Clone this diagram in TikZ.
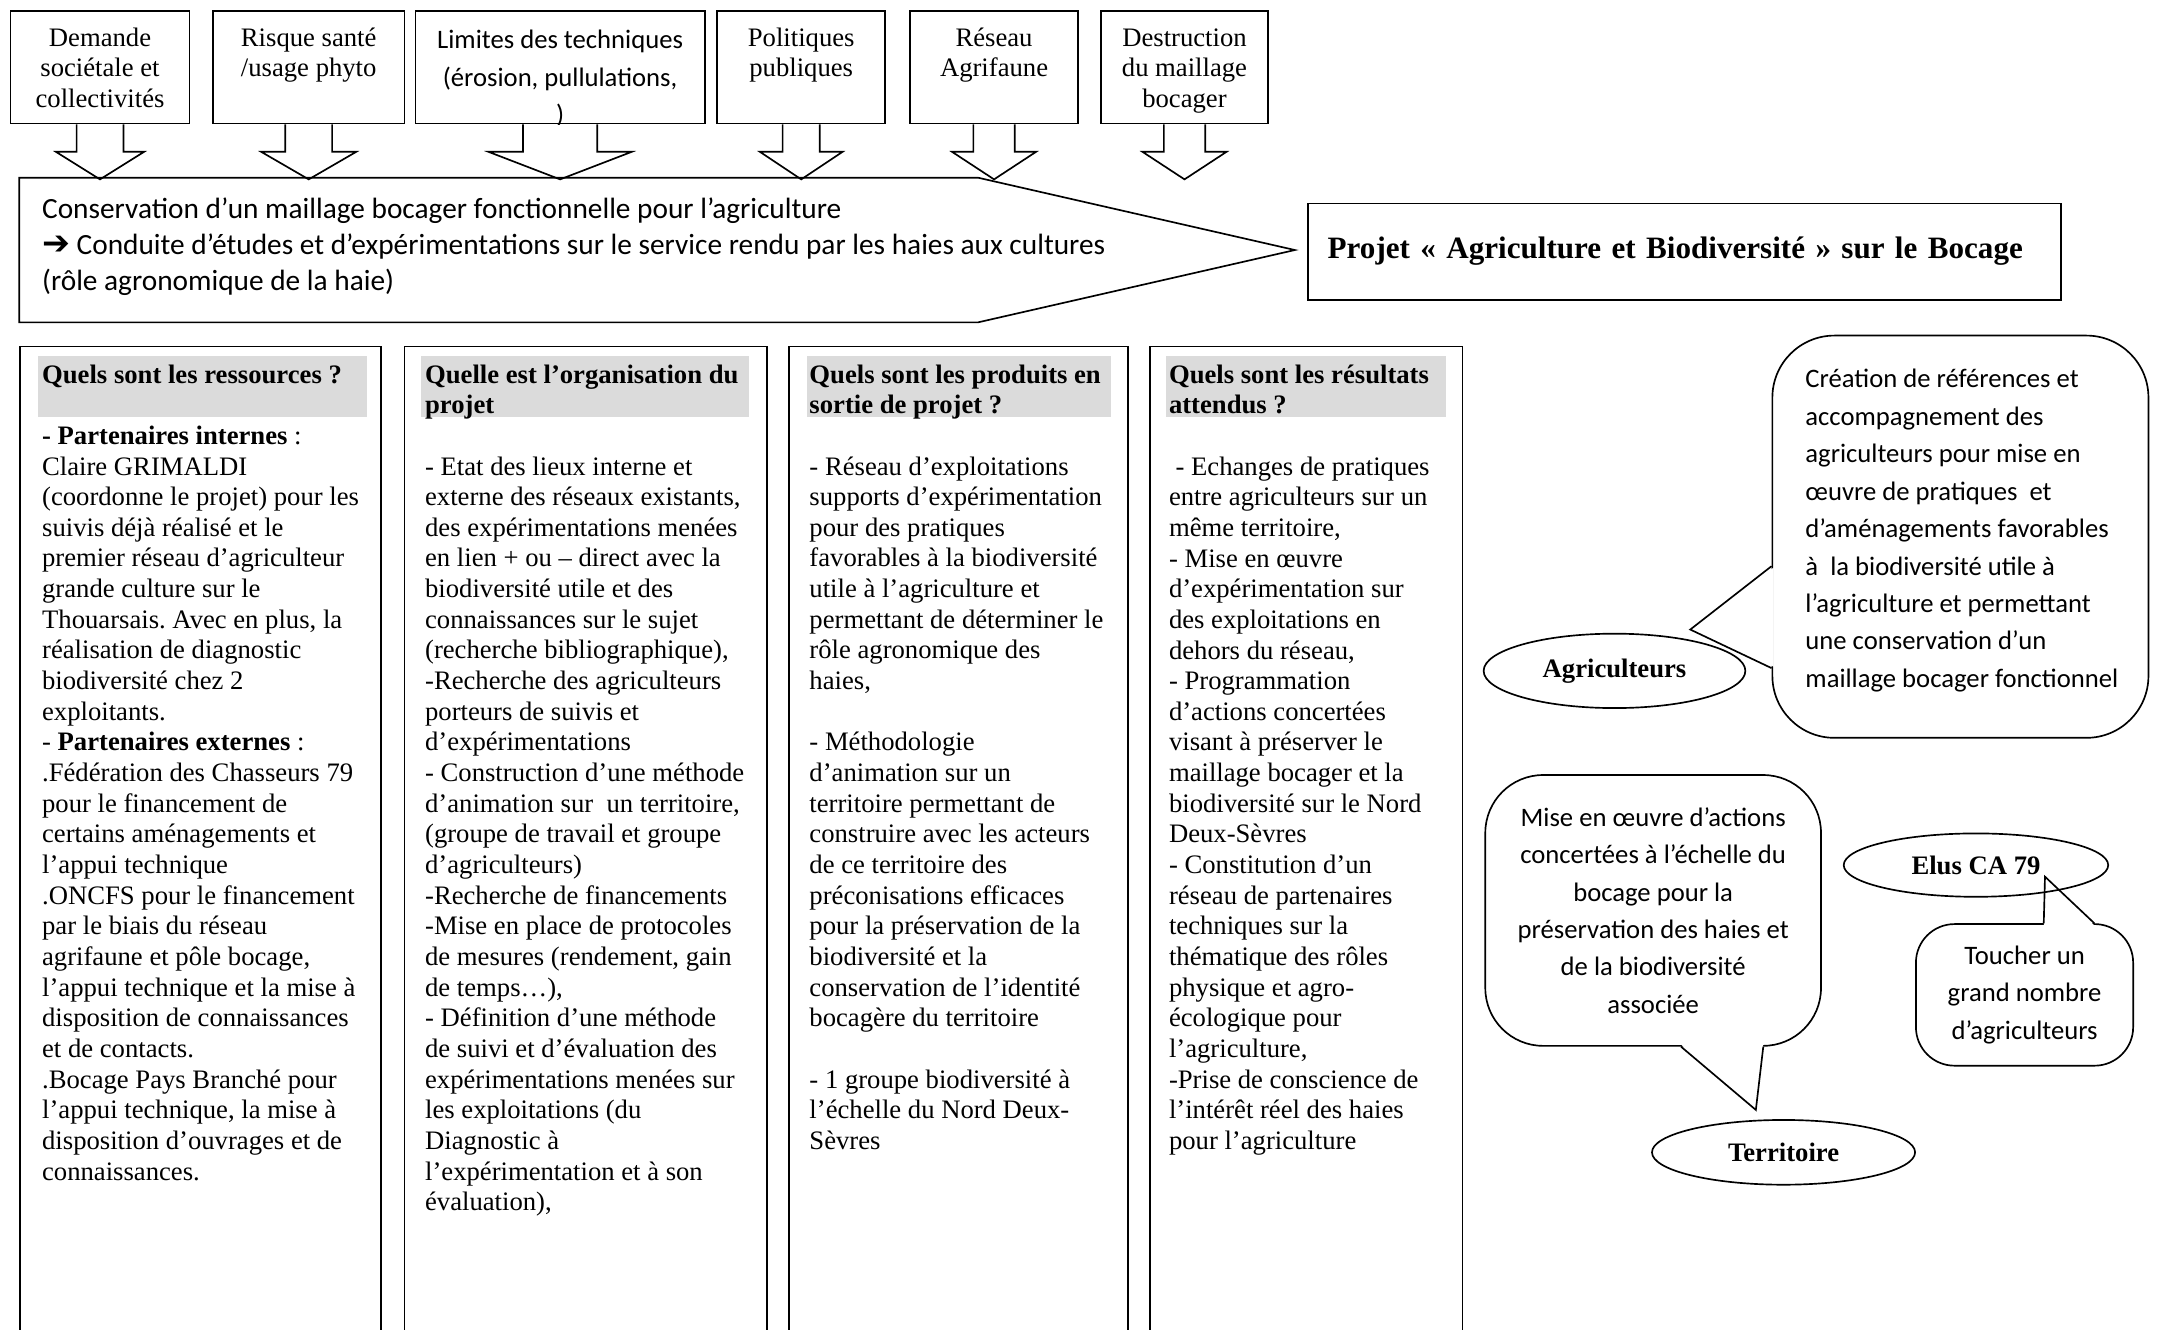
\documentclass[tikz,border=0pt]{standalone}
\usepackage{fontspec}
\setmainfont{Liberation Serif}
\newfontfamily\calibri{Carlito}
\newfontfamily\arrowfont{DejaVu Sans}
\usetikzlibrary{shapes.geometric,calc}
\newcommand{\pxu}{0.62pt}
\newcommand{\topstrut}{\rule{0pt}{11.2pt}}
\newcommand{\lowstrut}{\rule[-2.6pt]{0pt}{2.6pt}}
\frenchspacing

\tikzset{
  topbox/.style={draw, anchor=north west, minimum height=81.5*\pxu, inner sep=0pt, align=center},
  colframe/.style={draw, anchor=north west, minimum height=800*\pxu, inner sep=0pt},
  band/.style={fill=black!14, anchor=north west, minimum height=44*\pxu, inner sep=0pt},
  coltext/.style={anchor=north west, align=left, inner sep=0pt},
  bubble/.style={draw, anchor=north west, inner sep=0pt, align=center, font=\calibri\fontsize{12}{16.85}\selectfont},
  oval/.style={draw, ellipse, inner sep=0pt, font=\bfseries\fontsize{12}{13.8}\selectfont},
  cal/.style={font=\calibri\fontsize{12}{16.85}\selectfont},
}

\begin{document}
\begin{tikzpicture}[x=\pxu, y=-\pxu, line width=0.75pt,
  every node/.style={font=\fontsize{12}{13.8}\selectfont}]
\useasboundingbox (0,0) rectangle (1568,965);
\clip (0,0) rectangle (1568,965);

% contexte
\node[topbox, minimum width=130*\pxu] (dem) at (7,7.5) {\topstrut Demande\\sociétale et\\collectivités\lowstrut};
\node[topbox, minimum width=139*\pxu] (ris) at (154,7.5) {\topstrut Risque santé\\/usage phyto\\\lowstrut};
\node[topbox, minimum width=210*\pxu] (lim) at (301,7.5) {};
\begin{scope}
\clip (lim.north west) rectangle (lim.south east);
\node[cal, anchor=north, align=center, inner sep=0pt] (limtext) at ($(lim.north)+(0,14)$) {Limites des techniques\\(érosion, pullulations,\\)};
\end{scope}
\node[topbox, minimum width=122*\pxu] (pol) at (520,7.5) {\topstrut Politiques\\publiques\\\lowstrut};
\node[topbox, minimum width=122*\pxu] (rsx) at (660,7.5) {\topstrut Réseau\\Agrifaune\\\lowstrut};
\node[topbox, minimum width=121.5*\pxu] (des) at (798.5,7.5) {\topstrut Destruction\\du maillage\\bocager\lowstrut};

\draw (dem.south) ++(-17,0) -- ++(0,20) -- ++(-15,0) -- ++(32,20) -- ++(32,-20) -- ++(-15,0) -- ++(0,-20);
\draw (ris.south) ++(-17,0) -- ++(0,20) -- ++(-17.5,0) -- ++(34.5,20) -- ++(34.5,-20) -- ++(-17.5,0) -- ++(0,-20);
\draw (lim.south) ++(-27,0) -- ++(0,20) -- ++(-25,0) -- ++(52,20) -- ++(52,-20) -- ++(-25,0) -- ++(0,-20);
\draw (pol.south) ++(-13.5,0) -- ++(0,20) -- ++(-16.5,0) -- ++(30,20) -- ++(30,-20) -- ++(-16.5,0) -- ++(0,-20);
\draw (rsx.south) ++(-15,0) -- ++(0,20) -- ++(-15.5,0) -- ++(30.5,20) -- ++(30.5,-20) -- ++(-15.5,0) -- ++(0,-20);
\draw (des.south) ++(-15,0) -- ++(0,20) -- ++(-15.5,0) -- ++(30.5,20) -- ++(30.5,-20) -- ++(-15.5,0) -- ++(0,-20);

% objectif
\draw (14,129) -- (710,129) -- (940,181.5) -- (710,234) -- (14,234) -- cycle;
\node[coltext, font=\calibri\fontsize{13.2}{16.1}\selectfont] (cons) at (30,143)
  {Conservation d’un maillage bocager fonctionnelle pour l’agriculture\\
   {\arrowfont\fontsize{15}{16.1}\selectfont ➔} Conduite d’études et d’expérimentations sur le service rendu par les haies aux cultures\\
   (rôle agronomique de la haie)};

\node[draw, anchor=north west, minimum width=547*\pxu, minimum height=70*\pxu,
  text width=518*\pxu, inner xsep=14.5*\pxu, inner ysep=0pt, align=left,
  font=\bfseries\fontsize{14}{16}\selectfont] (projet) at (948.7,147)
  {Projet « Agriculture et Biodiversité » sur le Bocage};

% colonnes
\node[colframe, minimum width=262*\pxu] (resframe) at (14,251) {};
\node[colframe, minimum width=263*\pxu] (orgframe) at (293,251) {};
\node[colframe, minimum width=246*\pxu] (prodframe) at (572,251) {};
\node[colframe, minimum width=227*\pxu] (resuframe) at (834,251) {};
\node[band, minimum width=239*\pxu] (resband) at (27,258) {};
\node[band, minimum width=238*\pxu] (orgband) at (305,258) {};
\node[band, minimum width=221*\pxu] (prodband) at (585,258) {};
\node[band, minimum width=203*\pxu] (resuband) at (846,258) {};

\node[coltext] (res) at (30,264) {\textbf{Quels sont les ressources ?}\\[13.8pt]
\textbf{- Partenaires internes} :\\
Claire GRIMALDI\\
(coordonne le projet) pour les\\
suivis déjà réalisé et le\\
premier réseau d’agriculteur\\
grande culture sur le\\
Thouarsais. Avec en plus, la\\
réalisation de diagnostic\\
biodiversité chez 2\\
exploitants.\\
- \textbf{Partenaires externes} :\\
.Fédération des Chasseurs 79\\
pour le financement de\\
certains aménagements et\\
l’appui technique\\
.ONCFS pour le financement\\
par le biais du réseau\\
agrifaune et pôle bocage,\\
l’appui technique et la mise à\\
disposition de connaissances\\
et de contacts.\\
.Bocage Pays Branché pour\\
l’appui technique, la mise à\\
disposition d’ouvrages et de\\
connaissances.};

\node[coltext] (org) at (308,264) {\textbf{Quelle est l’organisation du}\\
\textbf{projet}\\[13.8pt]
- Etat des lieux interne et\\
externe des réseaux existants,\\
des expérimentations menées\\
en lien + ou – direct avec la\\
biodiversité utile et des\\
connaissances sur le sujet\\
(recherche bibliographique),\\
-Recherche des agriculteurs\\
porteurs de suivis et\\
d’expérimentations\\
- Construction d’une méthode\\
d’animation sur \ un territoire,\\
(groupe de travail et groupe\\
d’agriculteurs)\\
-Recherche de financements\\
-Mise en place de protocoles\\
de mesures (rendement, gain\\
de temps…),\\
- Définition d’une méthode\\
de suivi et d’évaluation des\\
expérimentations menées sur\\
les exploitations (du\\
Diagnostic à\\
l’expérimentation et à son\\
évaluation),};

\node[coltext] (prod) at (587,264) {\textbf{Quels sont les produits en}\\
\textbf{sortie de projet ?}\\[13.8pt]
- Réseau d’exploitations\\
supports d’expérimentation\\
pour des pratiques\\
favorables à la biodiversité\\
utile à l’agriculture et\\
permettant de déterminer le\\
rôle agronomique des\\
haies,\\[13.8pt]
- Méthodologie\\
d’animation sur un\\
territoire permettant de\\
construire avec les acteurs\\
de ce territoire des\\
préconisations efficaces\\
pour la préservation de la\\
biodiversité et la\\
conservation de l’identité\\
bocagère du territoire\\[13.8pt]
- 1 groupe biodiversité à\\
l’échelle du Nord Deux-\\
Sèvres};

\node[coltext] (resu) at (848,264) {\textbf{Quels sont les résultats}\\
\textbf{attendus ?}\\[13.8pt]
\ - Echanges de pratiques\\
entre agriculteurs sur un\\
même territoire,\\
- Mise en œuvre\\
d’expérimentation sur\\
des exploitations en\\
dehors du réseau,\\
- Programmation\\
d’actions concertées\\
visant à préserver le\\
maillage bocager et la\\
biodiversité sur le Nord\\
Deux-Sèvres\\
- Constitution d’un\\
réseau de partenaires\\
techniques sur la\\
thématique des rôles\\
physique et agro-\\
écologique pour\\
l’agriculture,\\
-Prise de conscience de\\
l’intérêt réel des haies\\
pour l’agriculture};

% acteurs
\node[bubble, minimum width=273*\pxu, minimum height=292*\pxu, rounded corners=45*\pxu] (crea) at (1286,243) {};
\node[coltext, cal] (creatext) at (1310,267.5) {Création de références et\\
accompagnement des\\
agriculteurs pour mise en\\
œuvre de pratiques \ et\\
d’aménagements favorables\\
à \ la biodiversité utile à\\
l’agriculture et permettant\\
une conservation d’un\\
maillage bocager fonctionnel};
\node[bubble, minimum width=243.7*\pxu, minimum height=196.6*\pxu, rounded corners=42*\pxu] (mise) at (1077.6,562)
  {Mise en œuvre d’actions\\concertées à l’échelle du\\bocage pour la\\préservation des haies et\\de la biodiversité\\associée};
\node[bubble, minimum width=157.7*\pxu, minimum height=102.8*\pxu, rounded corners=28*\pxu] (touch) at (1390.2,670.2)
  {Toucher un\\grand nombre\\d’agriculteurs};

\coordinate (agritip) at (1227,457);
\coordinate (terrtip) at (1274.6,805.7);
\coordinate (elustip) at (1484.5,636.4);
\fill[white] ($(crea.north west)+(1.5,169)$) -- (agritip) -- ($(crea.north west)+(1.5,241)$) -- cycle;
\draw ($(crea.north west)+(0,168)$) -- (agritip) -- ($(crea.north west)+(0,242)$);
\fill[white] ($(mise.south west)+(142.7,-1.5)$) -- (terrtip) -- ($(mise.south west)+(202.4,-1.5)$) -- cycle;
\draw ($(mise.south west)+(142.7,0)$) -- (terrtip) -- ($(mise.south west)+(202.4,0)$);
\fill[white] ($(touch.north west)+(93.4,1.5)$) -- (elustip) -- ($(touch.north west)+(130.1,1.5)$) -- cycle;
\draw ($(touch.north west)+(93.4,0)$) -- (elustip) -- ($(touch.north west)+(130.1,0)$);

\node[oval, minimum width=190*\pxu, minimum height=54*\pxu] (agri) at (1172,487) {Agriculteurs};
\node[oval, minimum width=191*\pxu, minimum height=47*\pxu] (terr) at (1294.7,836.5) {Territoire};
\node[oval, minimum width=192*\pxu, minimum height=46*\pxu] (elus) at (1434.4,628) {Elus CA 79};
\end{tikzpicture}
\end{document}
